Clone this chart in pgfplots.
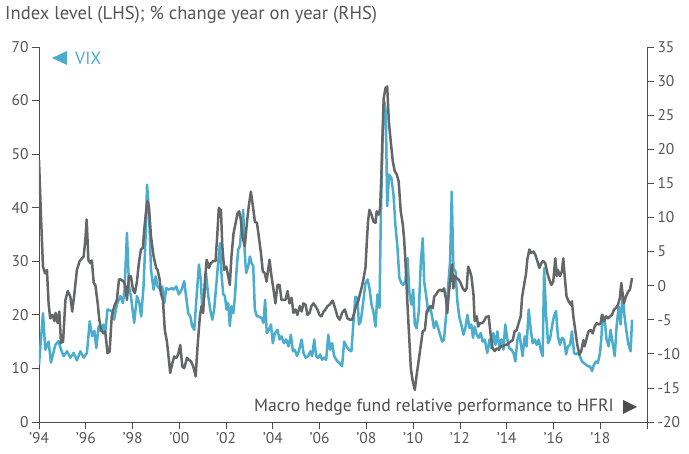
\documentclass[border=0pt]{standalone}
\usepackage{fontspec}
\setmainfont{PT Sans}
\usepackage{pgfplots}
\pgfplotsset{compat=1.18}

\definecolor{vixblue}{HTML}{4AADCD}
\definecolor{macrogray}{HTML}{656668}
\definecolor{axisgray}{HTML}{4D4D4D}
\definecolor{txtgray}{HTML}{555555}

\pgfplotsset{
  base/.style={
    scale only axis,
    width=608pt, height=375pt,
    xmin=1994, xmax=2020,
    axis line style={axisgray, line width=0.8pt},
    tick style={axisgray, line width=0.8pt},
    tick align=outside,
    major tick length=7pt,
    ticklabel style={font=\fontsize{15.5}{18}\selectfont, text=txtgray},
    /pgf/number format/assume math mode=true,
  }
}

\begin{document}
\begin{tikzpicture}
  \begin{axis}[
      base,
      axis x line*=bottom,
      axis y line*=left,
      ymin=0, ymax=70,
      ytick={0,10,...,70},
      xtick={1994,1996,...,2020},
      xticklabels={'94,'96,'98,'00,'02,'04,'06,'08,'10,'12,'14,'16,'18,{}},
    ]
    % VIX, index level (LHS)
    \addplot[vixblue, line width=2.5pt, line join=round] coordinates {
      (1994.00,10.7) (1994.17,20.3) (1994.27,13.5) (1994.41,15.0) (1994.51,11.1)
      (1994.70,14.4) (1994.84,15.1) (1994.94,13.5) (1995.05,12.3) (1995.20,13.2)
      (1995.34,12.0) (1995.48,12.9) (1995.62,11.5) (1995.77,13.2) (1995.91,12.0)
      (1996.05,12.9) (1996.17,18.8) (1996.27,16.0) (1996.37,17.0) (1996.45,13.8)
      (1996.55,17.9) (1996.65,17.0) (1996.76,18.2) (1996.83,16.6) (1996.93,21.0)
      (1997.12,20.7) (1997.21,19.1) (1997.33,21.9) (1997.48,23.5) (1997.59,22.2)
      (1997.66,24.7) (1997.76,35.3) (1997.85,25.3) (1997.93,23.5) (1998.07,18.5)
      (1998.19,23.5) (1998.29,22.2) (1998.37,19.7) (1998.47,25.3) (1998.56,34.7)
      (1998.62,44.3) (1998.70,39.6) (1998.79,28.4) (1998.90,24.7) (1998.99,27.2)
      (1999.07,25.3) (1999.19,24.7) (1999.27,25.3) (1999.36,22.2) (1999.44,25.0)
      (1999.56,24.7) (1999.67,25.0) (1999.75,24.7) (1999.87,25.3) (1999.98,23.8)
      (2000.10,24.7) (2000.21,26.3) (2000.38,20.3) (2000.47,19.7) (2000.55,17.9)
      (2000.64,17.2) (2000.74,23.5) (2000.84,29.4) (2000.92,26.6) (2000.98,21.0)
      (2001.07,23.5) (2001.14,27.8) (2001.24,23.5) (2001.32,21.0) (2001.41,19.1)
      (2001.49,21.0) (2001.59,26.0) (2001.66,29.7) (2001.74,33.4) (2001.81,27.2)
      (2001.88,23.8) (2001.95,23.5) (2002.02,21.0) (2002.09,22.2) (2002.16,17.9)
      (2002.23,21.6) (2002.31,20.3) (2002.38,23.5) (2002.45,28.4) (2002.52,32.2)
      (2002.59,32.8) (2002.66,36.5) (2002.73,39.6) (2002.80,31.5) (2002.86,27.8)
      (2002.95,29.1) (2003.02,30.9) (2003.09,29.7) (2003.16,29.1) (2003.23,21.0)
      (2003.32,19.7) (2003.40,19.7) (2003.52,19.4) (2003.60,18.5) (2003.67,22.8)
      (2003.74,16.6) (2003.83,17.2) (2003.92,18.2) (2004.00,14.7) (2004.09,16.6)
      (2004.20,17.2) (2004.29,15.4) (2004.37,16.0) (2004.47,14.7) (2004.57,15.4)
      (2004.67,14.1) (2004.77,16.3) (2004.86,13.2) (2004.94,13.5) (2005.03,12.3)
      (2005.11,13.2) (2005.23,15.4) (2005.31,12.9) (2005.40,12.0) (2005.51,12.3)
      (2005.60,13.2) (2005.68,12.3) (2005.77,15.4) (2005.85,12.3) (2005.94,12.0)
      (2006.02,12.6) (2006.11,11.6) (2006.19,12.0) (2006.28,11.6) (2006.37,16.3)
      (2006.45,13.5) (2006.54,14.7) (2006.62,12.3) (2006.76,11.3) (2006.86,11.0)
      (2006.96,10.4) (2007.05,15.0) (2007.15,14.1) (2007.25,13.5) (2007.36,13.2)
      (2007.45,18.8) (2007.53,23.4) (2007.62,23.1) (2007.68,18.2) (2007.76,18.8)
      (2007.86,22.2) (2007.96,25.9) (2008.05,26.6) (2008.13,25.0) (2008.22,21.9)
      (2008.30,20.6) (2008.39,17.8) (2008.47,23.8) (2008.56,21.3) (2008.62,38.7)
      (2008.69,52.4) (2008.76,59.9) (2008.83,58.0) (2008.89,40.3) (2008.97,46.2)
      (2009.07,45.5) (2009.16,42.4) (2009.24,36.8) (2009.33,32.5) (2009.41,26.9)
      (2009.50,25.9) (2009.58,25.6) (2009.67,26.2) (2009.76,30.6) (2009.84,24.1)
      (2009.93,21.9) (2010.00,24.7) (2010.07,18.2) (2010.15,17.5) (2010.24,20.6)
      (2010.33,30.0) (2010.41,34.3) (2010.47,26.2) (2010.55,23.8) (2010.64,20.6)
      (2010.72,21.6) (2010.81,19.7) (2010.89,17.5) (2010.98,18.8) (2011.07,17.5)
      (2011.15,16.3) (2011.24,15.0) (2011.32,15.4) (2011.41,20.0) (2011.49,25.0)
      (2011.58,30.0) (2011.65,43.0) (2011.72,28.7) (2011.81,28.1) (2011.89,22.5)
      (2011.98,19.4) (2012.06,18.2) (2012.15,16.3) (2012.23,17.5) (2012.32,20.0)
      (2012.41,17.5) (2012.49,18.2) (2012.56,15.7) (2012.63,17.8) (2012.72,16.3)
      (2012.80,15.7) (2012.89,16.6) (2012.97,15.0) (2013.06,15.4) (2013.17,12.9)
      (2013.26,15.4) (2013.34,13.8) (2013.43,16.6) (2013.52,14.4) (2013.60,16.9)
      (2013.69,13.8) (2013.77,15.4) (2013.86,13.5) (2013.94,18.2) (2014.03,15.4)
      (2014.11,13.8) (2014.20,13.5) (2014.29,12.9) (2014.37,11.3) (2014.46,15.4)
      (2014.54,16.6) (2014.63,13.8) (2014.68,12.3) (2014.77,16.0) (2014.85,14.1)
      (2014.94,21.0) (2015.03,17.2) (2015.11,14.7) (2015.20,15.4) (2015.28,14.4)
      (2015.37,15.4) (2015.45,13.5) (2015.54,12.3) (2015.60,28.7) (2015.68,20.3)
      (2015.77,14.7) (2015.85,15.4) (2015.94,17.9) (2016.02,19.7) (2016.11,20.7)
      (2016.19,16.0) (2016.28,14.4) (2016.36,15.7) (2016.45,15.4) (2016.54,12.6)
      (2016.62,14.1) (2016.71,14.4) (2016.79,16.9) (2016.88,12.9) (2016.96,12.6)
      (2017.05,12.9) (2017.13,12.3) (2017.22,11.3) (2017.30,11.0) (2017.39,10.7)
      (2017.48,10.4) (2017.56,10.4) (2017.65,9.5) (2017.73,10.7) (2017.82,11.3)
      (2017.90,11.0) (2017.99,12.9) (2018.05,15.7) (2018.10,20.0) (2018.19,19.1)
      (2018.27,15.4) (2018.36,14.1) (2018.44,17.2) (2018.53,14.7) (2018.62,12.3)
      (2018.70,17.9) (2018.79,21.6) (2018.87,18.2) (2018.96,24.1) (2019.04,19.7)
      (2019.13,16.6) (2019.21,14.4) (2019.30,13.2) (2019.36,19.1)
    };
  \end{axis}

  \begin{axis}[
      base,
      axis x line=none,
      axis y line*=right,
      ymin=-20, ymax=35,
      ytick={-20,-15,...,35},
    ]
    % Macro hedge fund relative performance to HFRI, % y/y (RHS)
    \addplot[macrogray, line width=2.5pt, line join=round] coordinates {
      (1994.00,18.4) (1994.09,9.7) (1994.17,2.8) (1994.26,1.8) (1994.34,2.3)
      (1994.41,-2.6) (1994.48,-4.8) (1994.58,-4.3) (1994.66,-5.2) (1994.71,-4.0)
      (1994.80,-5.5) (1994.87,-3.8) (1994.94,-8.4) (1995.03,-8.2) (1995.13,-2.1)
      (1995.23,-0.8) (1995.34,-1.6) (1995.42,-3.8) (1995.51,-1.3) (1995.62,2.3)
      (1995.74,3.6) (1995.84,4.0) (1995.91,4.3) (1995.98,6.7) (1996.04,9.7)
      (1996.11,3.8) (1996.19,3.3) (1996.26,3.7) (1996.34,0.4) (1996.41,0.1)
      (1996.51,-2.6) (1996.58,-5.0) (1996.66,-6.5) (1996.76,-7.0) (1996.83,-6.7)
      (1996.93,-9.9) (1997.02,-9.7) (1997.11,-4.5) (1997.22,-3.0) (1997.33,-2.1)
      (1997.42,0.9) (1997.50,0.9) (1997.62,0.6) (1997.69,-0.1) (1997.76,-2.1)
      (1997.85,1.4) (1997.93,1.4) (1998.02,-0.6) (1998.10,-1.1) (1998.19,0.6)
      (1998.27,3.3) (1998.36,5.3) (1998.44,5.5) (1998.50,8.2) (1998.57,10.6)
      (1998.63,12.4) (1998.70,11.6) (1998.79,7.2) (1998.90,4.3) (1999.01,2.6)
      (1999.07,2.3) (1999.16,0.9) (1999.21,-1.1) (1999.30,-2.1) (1999.38,-6.5)
      (1999.47,-8.2) (1999.54,-10.4) (1999.61,-12.8) (1999.70,-11.4) (1999.78,-10.4)
      (1999.87,-10.6) (1999.95,-10.1) (2000.04,-8.7) (2000.13,-11.9) (2000.21,-12.1)
      (2000.33,-10.6) (2000.41,-10.9) (2000.50,-11.1) (2000.60,-11.9) (2000.70,-13.3)
      (2000.78,-8.9) (2000.88,-4.5) (2000.95,-3.0) (2001.02,-4.0) (2001.09,0.4)
      (2001.17,3.8) (2001.27,2.6) (2001.35,3.3) (2001.45,3.6) (2001.55,3.6)
      (2001.62,7.2) (2001.69,11.4) (2001.78,11.1) (2001.84,5.8) (2001.92,2.3)
      (2002.01,2.8) (2002.09,1.4) (2002.16,0.1) (2002.23,4.3) (2002.32,7.7)
      (2002.41,9.2) (2002.49,10.6) (2002.56,10.9) (2002.63,9.7) (2002.70,7.2)
      (2002.80,5.8) (2002.89,9.2) (2002.97,11.6) (2003.06,13.8) (2003.15,11.6)
      (2003.23,9.4) (2003.32,9.2) (2003.40,7.2) (2003.49,4.8) (2003.57,2.1)
      (2003.66,1.8) (2003.73,0.6) (2003.80,2.3) (2003.86,3.8) (2003.94,1.4)
      (2004.03,-0.6) (2004.11,-2.6) (2004.20,0.1) (2004.29,0.1) (2004.37,-2.1)
      (2004.46,-2.1) (2004.54,-2.1) (2004.63,-0.8) (2004.71,-2.6) (2004.80,-1.8)
      (2004.88,-4.0) (2004.97,-3.5) (2005.05,-4.3) (2005.15,-3.0) (2005.23,-3.8)
      (2005.31,-2.6) (2005.40,-2.8) (2005.48,-4.3) (2005.57,-4.0) (2005.65,-3.0)
      (2005.74,-2.6) (2005.82,-3.0) (2005.91,-3.5) (2005.99,-4.3) (2006.08,-4.5)
      (2006.17,-3.8) (2006.25,-3.5) (2006.34,-3.0) (2006.42,-2.8) (2006.56,-2.2)
      (2006.68,-3.5) (2006.76,-4.5) (2006.86,-5.0) (2006.96,-4.0) (2007.08,-3.5)
      (2007.19,-4.8) (2007.29,-5.0) (2007.39,-5.0) (2007.48,-4.0) (2007.56,-3.0)
      (2007.65,-2.3) (2007.72,-1.3) (2007.79,-0.4) (2007.87,0.9) (2007.96,2.6)
      (2008.02,6.5) (2008.07,9.4) (2008.13,11.1) (2008.22,10.4) (2008.30,9.4)
      (2008.39,9.2) (2008.44,10.9) (2008.53,10.4) (2008.59,11.4) (2008.64,16.3)
      (2008.69,22.1) (2008.74,27.5) (2008.82,29.0) (2008.89,29.2) (2008.96,24.1)
      (2009.04,21.2) (2009.13,18.2) (2009.21,16.8) (2009.30,16.3) (2009.38,15.3)
      (2009.47,10.9) (2009.56,8.9) (2009.61,7.0) (2009.67,3.6) (2009.73,-0.8)
      (2009.78,-4.3) (2009.84,-8.2) (2009.90,-12.1) (2009.97,-13.8) (2010.07,-15.3)
      (2010.15,-13.1) (2010.24,-10.9) (2010.33,-8.7) (2010.41,-6.7) (2010.50,-6.5)
      (2010.58,-3.8) (2010.67,-3.3) (2010.75,-3.0) (2010.84,-3.3) (2010.90,-1.6)
      (2010.98,-1.3) (2011.07,-0.8) (2011.15,-0.6) (2011.24,-0.8) (2011.32,-0.4)
      (2011.41,-2.1) (2011.46,-4.0) (2011.52,-1.3) (2011.61,1.6) (2011.66,3.1)
      (2011.72,-0.4) (2011.78,1.4) (2011.86,1.1) (2011.95,0.9) (2012.03,0.4)
      (2012.12,-0.4) (2012.21,-0.8) (2012.29,-0.4) (2012.35,2.8) (2012.43,2.1)
      (2012.49,1.4) (2012.58,-1.3) (2012.63,-5.2) (2012.72,-4.5) (2012.78,-6.0)
      (2012.86,-5.5) (2012.95,-5.5) (2013.03,-5.2) (2013.12,-4.6) (2013.23,-4.5)
      (2013.32,-7.4) (2013.40,-9.2) (2013.49,-9.6) (2013.57,-9.2) (2013.66,-9.4)
      (2013.74,-8.9) (2013.83,-8.9) (2013.91,-8.7) (2014.00,-8.7) (2014.09,-8.4)
      (2014.17,-8.2) (2014.26,-8.0) (2014.34,-6.7) (2014.43,-6.5) (2014.51,-5.5)
      (2014.60,-4.5) (2014.66,-1.6) (2014.74,0.0) (2014.83,1.8) (2014.88,3.8)
      (2014.97,5.3) (2015.05,4.8) (2015.14,5.0) (2015.23,4.5) (2015.31,3.6)
      (2015.40,2.6) (2015.48,3.3) (2015.57,3.6) (2015.65,3.3) (2015.74,1.8)
      (2015.82,0.9) (2015.91,0.1) (2015.99,0.6) (2016.08,4.0) (2016.14,1.4)
      (2016.19,2.3) (2016.28,1.4) (2016.36,2.1) (2016.42,4.0) (2016.48,1.4)
      (2016.56,-1.6) (2016.65,-2.3) (2016.74,-2.8) (2016.79,-2.3) (2016.85,-4.5)
      (2016.93,-6.5) (2017.02,-8.7) (2017.11,-10.1) (2017.19,-9.6) (2017.28,-8.0)
      (2017.33,-8.9) (2017.42,-7.7) (2017.50,-6.7) (2017.59,-6.5) (2017.68,-7.0)
      (2017.76,-6.0) (2017.85,-5.5) (2017.93,-5.7) (2018.02,-5.5) (2018.07,-4.3)
      (2018.16,-5.2) (2018.25,-4.5) (2018.33,-4.8) (2018.42,-4.5) (2018.50,-4.3)
      (2018.59,-3.5) (2018.67,-3.3) (2018.76,-2.8) (2018.84,-1.8) (2018.90,0.4)
      (2018.96,-1.3) (2019.01,-2.6) (2019.10,-1.6) (2019.19,-0.9) (2019.27,-0.6)
      (2019.36,1.1)
    };
  \end{axis}

  % title and series labels (axis box spans 0..608pt x 0..375pt)
  \node[anchor=west, text=txtgray, font=\fontsize{18.6}{21}\selectfont, inner sep=0pt]
    at (-34pt,407pt) {Index level (LHS); \% change year on year (RHS)};
  \fill[vixblue] (13pt,364pt) -- (28pt,371pt) -- (28pt,357pt) -- cycle;
  \node[anchor=west, text=vixblue, font=\fontsize{17.7}{20}\selectfont, inner sep=0pt]
    at (36pt,364pt) {VIX};
  \node[anchor=east, text=axisgray, font=\fontsize{17.7}{20}\selectfont, inner sep=0pt]
    at (575pt,15pt) {Macro hedge fund relative performance to HFRI};
  \fill[axisgray] (584pt,22pt) -- (598pt,15pt) -- (584pt,8pt) -- cycle;

  \path[use as bounding box] (-39pt,-32pt) rectangle (650pt,422pt);
\end{tikzpicture}
\end{document}
